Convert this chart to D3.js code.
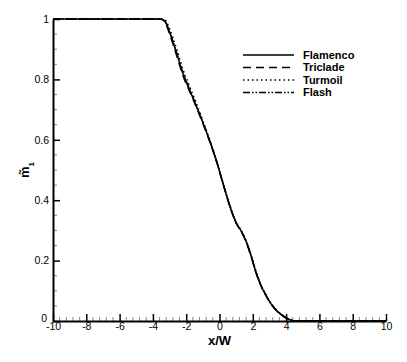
<!DOCTYPE html>
<html>
<head>
<meta charset="utf-8">
<script src="https://cdn.jsdelivr.net/npm/d3@7"></script>
<style>
  body { margin: 0; background: #fff; }
  svg { font-family: "Liberation Sans", Arial, sans-serif; }
</style>
</head>
<body>
<div id="chart"></div>
<script>
// sample positions along x/W
const xs = [-10, -3.6, -3.4, -3.2, -3.0, -2.8, -2.5, -2.2, -1.8, -1.4, -1.0, -0.6, -0.2,
  0.2, 0.6, 1.0, 1.3, 1.6, 1.9, 2.2, 2.5, 2.8, 3.1, 3.4, 3.7, 4.0, 4.3, 4.6, 10];

const flamenco = [1, 1, 0.998, 0.985, 0.957, 0.925, 0.873, 0.820, 0.766, 0.713, 0.657, 0.598, 0.533,
  0.458, 0.384, 0.325, 0.298, 0.263, 0.215, 0.160, 0.116, 0.084, 0.056, 0.036, 0.021, 0.010, 0.003, 0, 0];
const triclade = [1, 1, 0.997, 0.981, 0.951, 0.918, 0.866, 0.813, 0.761, 0.709, 0.654, 0.596, 0.532,
  0.457, 0.383, 0.324, 0.297, 0.262, 0.213, 0.158, 0.115, 0.083, 0.056, 0.036, 0.022, 0.011, 0.003, 0, 0];
const turmoil = [1, 1, 1.0, 0.992, 0.968, 0.938, 0.888, 0.834, 0.778, 0.722, 0.663, 0.602, 0.535,
  0.459, 0.385, 0.327, 0.300, 0.266, 0.218, 0.163, 0.118, 0.086, 0.058, 0.038, 0.023, 0.011, 0.004, 0, 0];
const flash = [1, 1, 0.998, 0.986, 0.959, 0.927, 0.875, 0.822, 0.768, 0.714, 0.658, 0.599, 0.533,
  0.458, 0.385, 0.326, 0.299, 0.264, 0.216, 0.161, 0.117, 0.085, 0.057, 0.036, 0.021, 0.010, 0.003, 0, 0];

const seriesNames = ['Flamenco', 'Triclade', 'Turmoil', 'Flash'];
const seriesValues = [flamenco, triclade, turmoil, flash];
const dashes = [null, '8,5', '1.5,3', '7,2,1.5,2,1.5,2'];

const xMajor = [-10, -8, -6, -4, -2, 0, 2, 4, 6, 8, 10];
const yMajor = [0, 0.2, 0.4, 0.6, 0.8, 1];

const width = 407;
const height = 362;
const margin = {left: 53, right: 21, top: 19, bottom: 41};

const svg = d3.select('#chart').append('svg')
  .attr('width', width)
  .attr('height', height);

const x = d3.scaleLinear().domain([-10, 10]).range([margin.left, width - margin.right]);
const y = d3.scaleLinear().domain([0, 1]).range([height - margin.bottom, margin.top]);

// minor ticks
const xMinor = d3.range(-10, 10.001, 0.4).filter(v => Math.abs(v / 2 - Math.round(v / 2)) > 1e-6);
const yMinor = d3.range(0, 1.0001, 0.05).filter(v => Math.abs(v * 5 - Math.round(v * 5)) > 1e-6);

svg.append('g').selectAll('line')
  .data(xMinor)
  .enter().append('line')
  .attr('x1', d => x(d)).attr('x2', d => x(d))
  .attr('y1', y(0)).attr('y2', y(0) - 4)
  .attr('stroke', '#888').attr('stroke-width', 1);

svg.append('g').selectAll('line')
  .data(yMinor)
  .enter().append('line')
  .attr('y1', d => y(d)).attr('y2', d => y(d))
  .attr('x1', x(-10)).attr('x2', x(-10) + 4)
  .attr('stroke', '#888').attr('stroke-width', 1);

// tecplot style labels use a plain hyphen for negatives
const fmtX = d => String(d);
const fmtY = d => (d === 0 || d === 1) ? String(d) : d.toFixed(1);

const xAxis = d3.axisBottom(x).tickValues(xMajor).tickSizeInner(-7).tickSizeOuter(0).tickFormat(fmtX);
const yAxis = d3.axisLeft(y).tickValues(yMajor).tickSizeInner(-7).tickSizeOuter(0).tickFormat(fmtY);

const gx = svg.append('g')
  .attr('transform', `translate(0,${y(0)})`)
  .call(xAxis);
gx.select('.domain').attr('stroke-width', 2);
gx.selectAll('.tick line').attr('stroke-width', 1.5);
gx.selectAll('.tick text')
  .attr('y', 2)
  .attr('dy', '0.71em')
  .style('font-size', '10.5px')
  .style('font-family', '"Liberation Sans", Arial, sans-serif');

const gy = svg.append('g')
  .attr('transform', `translate(${x(-10)},0)`)
  .call(yAxis);
gy.select('.domain').attr('stroke-width', 2);
gy.selectAll('.tick line').attr('stroke-width', 1.5);
gy.selectAll('.tick text')
  .attr('x', d => d === 0 ? -6 : -4)
  .attr('dy', d => d === 0 ? '0.05em' : '0.32em')
  .style('font-size', '10.5px')
  .style('font-family', '"Liberation Sans", Arial, sans-serif');

// curves
const line = d3.line()
  .x((d, i) => x(xs[i]))
  .y(d => y(d))
  .curve(d3.curveMonotoneX);

svg.append('g').selectAll('path')
  .data(seriesValues)
  .enter().append('path')
  .attr('d', line)
  .attr('fill', 'none')
  .attr('stroke', '#000')
  .attr('stroke-width', 1.5)
  .attr('stroke-dasharray', (d, i) => dashes[i]);

// legend
const legend = svg.append('g');
seriesNames.forEach((name, i) => {
  const ly = 55 + i * 12.5;
  legend.append('line')
    .attr('x1', 243).attr('x2', 294)
    .attr('y1', ly).attr('y2', ly)
    .attr('stroke', '#000')
    .attr('stroke-width', 1.5)
    .attr('stroke-dasharray', dashes[i]);
  legend.append('text')
    .attr('x', 303).attr('y', ly)
    .attr('dy', '0.36em')
    .style('font-size', '11px')
    .style('font-weight', 'bold')
    .text(name);
});

// axis titles
svg.append('text')
  .attr('x', x(0)).attr('y', 345)
  .attr('text-anchor', 'middle')
  .style('font-size', '13px')
  .style('font-weight', 'bold')
  .text('x/W');

svg.append('text')
  .attr('transform', `translate(29,${y(0.5)}) rotate(-90)`)
  .attr('text-anchor', 'middle')
  .style('font-size', '13px')
  .style('font-weight', 'bold')
  .html('m\u0303<tspan baseline-shift="sub" font-size="8px">1</tspan>');
</script>
</body>
</html>
